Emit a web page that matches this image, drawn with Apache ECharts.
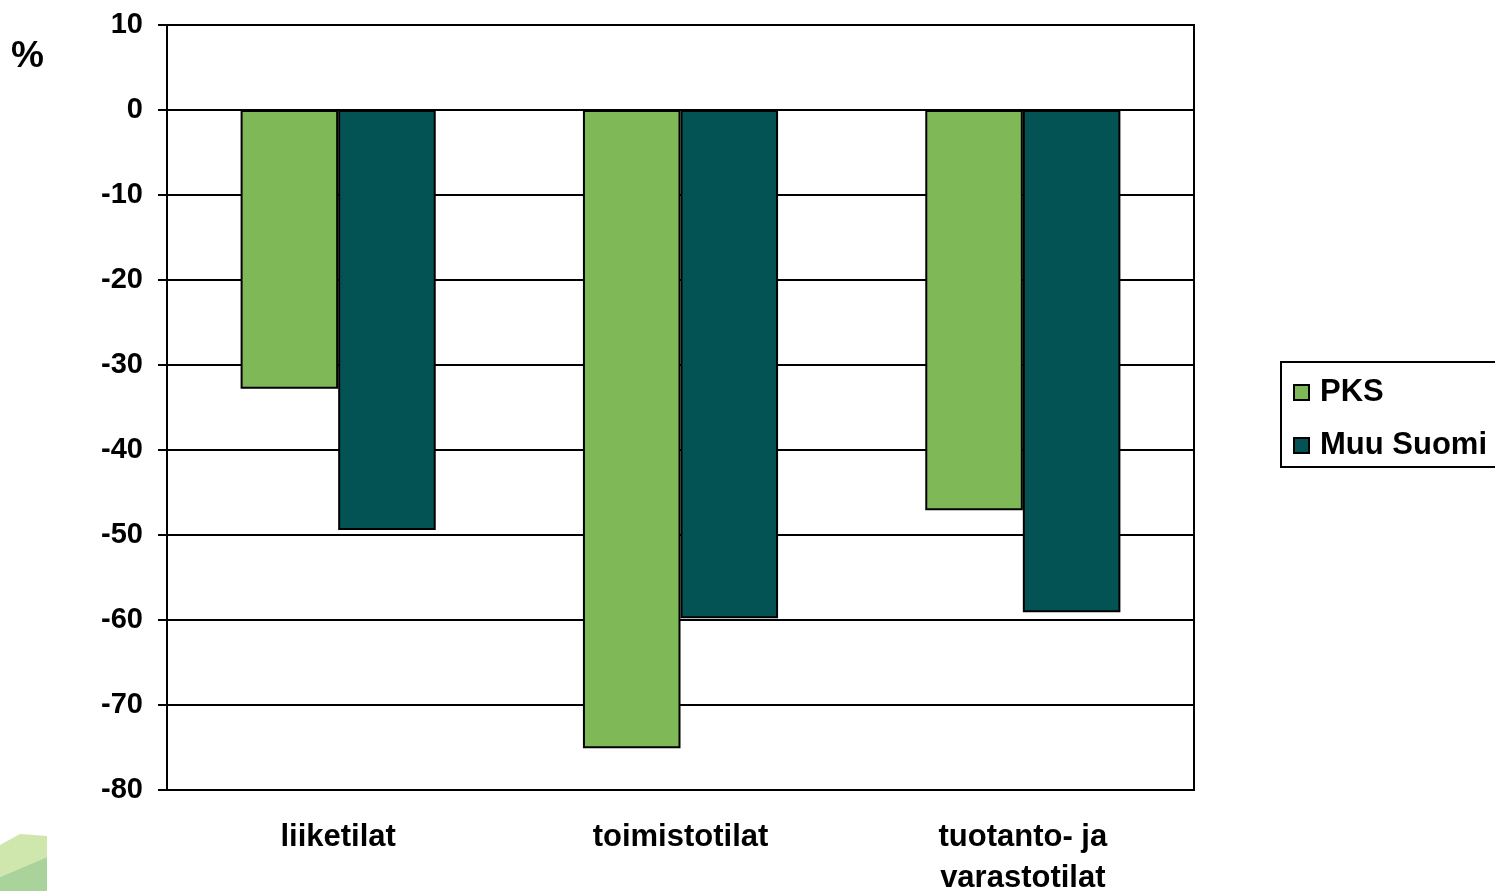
<!DOCTYPE html>
<html>
<head>
<meta charset="utf-8">
<script src="https://cdn.jsdelivr.net/npm/echarts@6/dist/echarts.min.js"></script>
<style>
  html, body { margin: 0; padding: 0; background: #fff; }
  #main { width: 1495px; height: 891px; }
</style>
</head>
<body>
<div id="main"></div>
<script>
var categories = ['liiketilat', 'toimistotilat', 'tuotanto- ja\nvarastotilat'];
var pks = [-32.8, -75.1, -47.1];
var muuSuomi = [-49.4, -59.8, -59.1];
var yTicks = [10, 0, -10, -20, -30, -40, -50, -60, -70, -80];

var myChart = echarts.init(document.getElementById('main'));

var font = 'Liberation Sans, Arial, sans-serif';

myChart.setOption({
  animation: false,
  textStyle: { fontFamily: font },
  grid: {
    left: 167,
    right: 301,
    top: 25,
    bottom: 101,
    outerBoundsMode: 'none',
    containLabel: false,
    show: true,
    borderColor: '#000',
    borderWidth: 2
  },
  legend: {
    left: 1281,
    top: 362,
    orient: 'vertical',
    icon: 'rect',
    padding: [15, 40, 6, 12],
    itemGap: 22,
    itemWidth: 15,
    itemHeight: 15,
    borderColor: '#000',
    borderWidth: 2,
    textStyle: { fontSize: 31, fontWeight: 'bold', color: '#000', fontFamily: font, padding: [0, 0, 0, 6] },
    itemStyle: { borderColor: '#000', borderWidth: 2 },
    data: ['PKS', 'Muu Suomi']
  },
  xAxis: {
    type: 'category',
    data: categories,
    position: 'bottom',
    axisLine: { show: false },
    axisTick: { show: false },
    axisLabel: {
      margin: 27,
      fontSize: 31,
      fontWeight: 'bold',
      color: '#000',
      lineHeight: 41,
      fontFamily: font
    }
  },
  yAxis: {
    type: 'value',
    min: -80,
    max: 10,
    interval: 10,
    axisLine: { show: true, lineStyle: { color: '#000', width: 2 } },
    axisTick: { show: true, length: 9, lineStyle: { color: '#000', width: 2 } },
    axisLabel: {
      margin: 24,
      fontSize: 29,
      fontWeight: 'bold',
      color: '#000',
      fontFamily: font,
      formatter: function (v) { return yTicks.indexOf(v) >= 0 ? String(v) : ''; }
    },
    splitLine: { show: true, lineStyle: { color: '#000', width: 2 } }
  },
  graphic: [
    {
      type: 'text',
      left: 11,
      top: 38,
      style: { text: '%', fontSize: 37, fontWeight: 'bold', fill: '#000', fontFamily: font }
    },
    {
      type: 'polygon',
      shape: { points: [[0, 845], [20, 834], [47, 836], [47, 857], [0, 877]] },
      style: { fill: '#cfe6ad' },
      z: -1
    },
    {
      type: 'polygon',
      shape: { points: [[0, 877], [47, 857], [47, 891], [0, 891]] },
      style: { fill: '#a9d39a' },
      z: -1
    }
  ],
  series: [
    {
      name: 'PKS',
      type: 'bar',
      data: pks,
      barGap: '0%',
      barCategoryGap: '43%',
      itemStyle: { color: '#7fb957', borderColor: '#000', borderWidth: 2 }
    },
    {
      name: 'Muu Suomi',
      type: 'bar',
      data: muuSuomi,
      itemStyle: { color: '#035355', borderColor: '#000', borderWidth: 2 }
    }
  ]
});
</script>
</body>
</html>
